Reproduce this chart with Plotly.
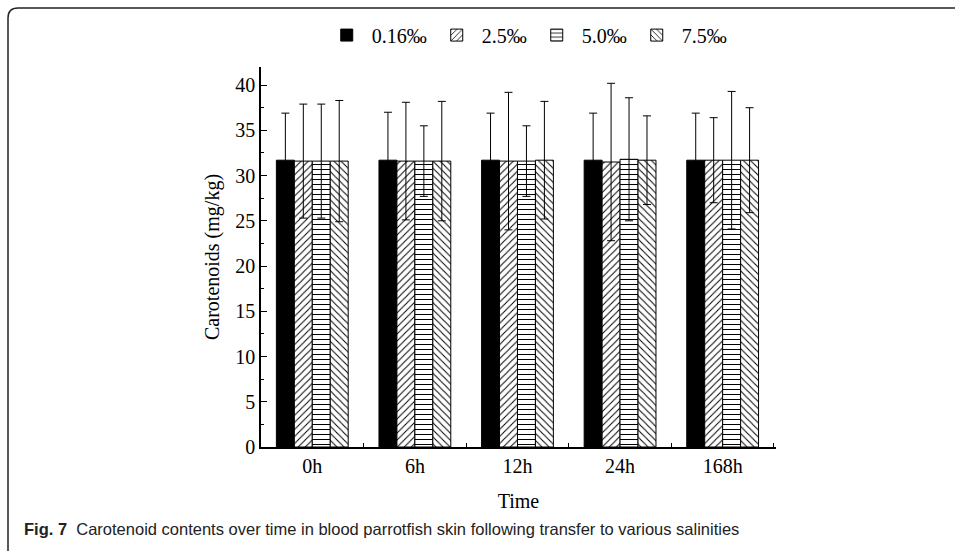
import plotly.graph_objects as go

times = ["0h", "6h", "12h", "24h", "168h"]
series_names = ["0.16‰", "2.5‰", "5.0‰", "7.5‰"]
m016 = [31.7, 31.7, 31.7, 31.7, 31.7]
m25 = [31.6, 31.6, 31.6, 31.5, 31.7]
m50 = [31.6, 31.6, 31.6, 31.8, 31.7]
m75 = [31.6, 31.6, 31.7, 31.7, 31.7]
e016 = [5.2, 5.3, 5.2, 5.2, 5.2]
e25 = [6.3, 6.5, 7.6, 8.7, 4.7]
e50 = [6.3, 3.9, 3.9, 6.8, 7.6]
e75 = [6.7, 6.6, 6.5, 4.9, 5.8]

means = [m016, m25, m50, m75]
errs = [e016, e25, e50, e75]
patterns = ["", "/", "-", "\\"]

SERIF = "Liberation Serif, Times New Roman, serif"

fig = go.Figure()
for name, m, e, p in zip(series_names, means, errs, patterns):
    if p == "":
        marker = dict(color="black", line=dict(color="black", width=1))
    else:
        marker = dict(color="white", line=dict(color="black", width=1),
                      pattern=dict(shape=p, fgcolor="black", bgcolor="white",
                                   size=5, solidity=0.2, fillmode="replace"))
    fig.add_trace(go.Bar(
        x=times, y=m, name=name, marker=marker,
        error_y=dict(type="data", array=e, visible=True, color="black",
                     thickness=1, width=4),
    ))

fig.update_layout(
    width=955, height=551,
    barmode="group", bargap=0.3, bargroupgap=0,
    plot_bgcolor="white", paper_bgcolor="white",
    margin=dict(l=261, r=179, t=67, b=104, autoexpand=False),
    font=dict(family=SERIF, size=20, color="black"),
    legend=dict(orientation="h", x=0.516, xanchor="center", y=1.084, yanchor="middle",
                font=dict(family=SERIF, size=20, color="black"),
                itemwidth=40, tracegroupgap=0, bgcolor="rgba(0,0,0,0)"),
    xaxis=dict(
        type="category", range=[-0.5, 4.52], tickson="boundaries",
        ticks="inside", ticklen=4, tickwidth=1, tickcolor="black",
        showline=True, linecolor="black", linewidth=1.5, showgrid=False,
        tickfont=dict(family=SERIF, size=20, color="black"),
        title=dict(text="Time", font=dict(family=SERIF, size=20, color="black"), standoff=18),
    ),
    yaxis=dict(
        range=[0, 42], dtick=5, tick0=0,
        ticks="inside", ticklen=6, tickwidth=1, tickcolor="black",
        minor=dict(dtick=2.5, ticks="inside", ticklen=3, tickcolor="black", showgrid=False),
        showline=True, linecolor="black", linewidth=1.5, showgrid=False, zeroline=False,
        tickfont=dict(family=SERIF, size=20, color="black"),
        title=dict(text="Carotenoids (mg/kg)", font=dict(family=SERIF, size=20, color="black"), standoff=10),
    ),
)

# caption
fig.add_annotation(
    xref="paper", yref="paper", x=(22 - 261) / 515, y=(447 - 529) / 380,
    xanchor="left", yanchor="middle", showarrow=False, align="left",
    text="<b>Fig. 7</b>  Carotenoid contents over time in blood parrotfish skin following transfer to various salinities",
    font=dict(family="Liberation Sans, Arial, sans-serif", size=16.5, color="#222"),
)

# figure frame (rounded top-left corner)
def px(xp):
    return (xp - 261) / 515

def py(yp):
    return (447 - yp) / 380

frame = (f"M {px(8)},{py(551)} L {px(8)},{py(18)} Q {px(8)},{py(8)} {px(18)},{py(8)} "
         f"L {px(955)},{py(8)}")
fig.add_shape(type="path", xref="paper", yref="paper", path=frame,
              line=dict(color="#222", width=1.5))

fig.write_html("out.html")
